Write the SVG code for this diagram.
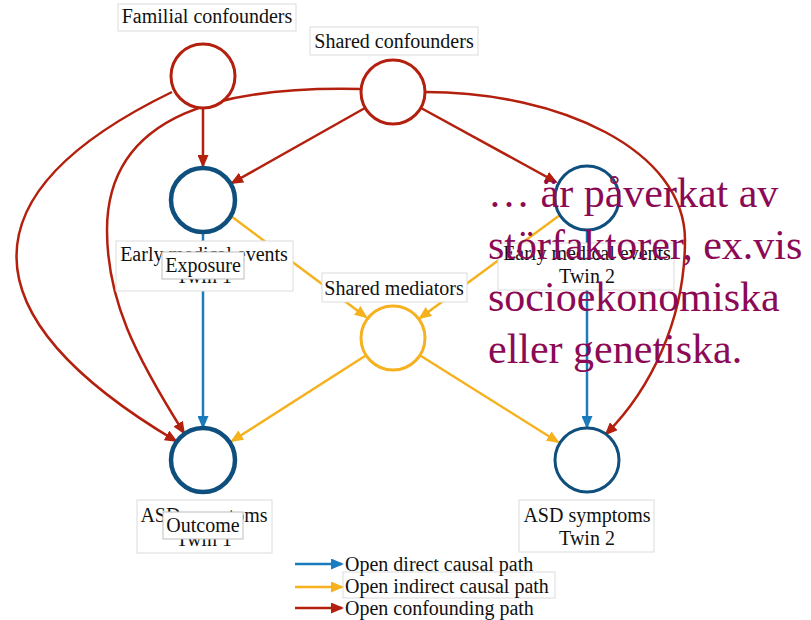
<svg xmlns="http://www.w3.org/2000/svg" width="811" height="620" viewBox="0 0 811 620">
<style>
  text { font-family: "Liberation Serif", "Times New Roman", serif; font-size: 20px; fill: #111; text-anchor: middle; }
  .lbl { fill: #fff; stroke: #dcdcdc; stroke-width: 1; }
  .tag { fill: #fff; stroke: #bdbdbd; stroke-width: 1; }
  .e { fill: none; stroke-width: 2.5; }
  .red { stroke: #b3200e; }
  .blue { stroke: #1a7bbd; }
  .orange { stroke: #f6b11f; }
  .nred { fill: #fff; stroke: #b3200e; stroke-width: 3; }
  .nblue { fill: #fff; stroke: #0f4f7e; stroke-width: 4.5; }
  .nblue2 { fill: #fff; stroke: #0f4f7e; stroke-width: 3; }
  .norange { fill: #fff; stroke: #f6b11f; stroke-width: 3; }
  .leg { text-anchor: start; }
  .big { font-size: 42px; fill: #8c0a55; text-anchor: start; }
</style>
<defs>
  <marker id="aRed" markerUnits="userSpaceOnUse" markerWidth="13" markerHeight="11" refX="11" refY="5.5" orient="auto">
    <path d="M0,0 L13,5.5 L0,11 z" fill="#b3200e"/>
  </marker>
  <marker id="aBlue" markerUnits="userSpaceOnUse" markerWidth="13" markerHeight="11" refX="11" refY="5.5" orient="auto">
    <path d="M0,0 L13,5.5 L0,11 z" fill="#1a7bbd"/>
  </marker>
  <marker id="aOrange" markerUnits="userSpaceOnUse" markerWidth="13" markerHeight="11" refX="11" refY="5.5" orient="auto">
    <path d="M0,0 L13,5.5 L0,11 z" fill="#f6b11f"/>
  </marker>
</defs>
<rect width="811" height="620" fill="#fff"/>

<g id="connectors">
  <path class="e red" d="M203,108 L203,166" marker-end="url(#aRed)"/>
  <path class="e red" d="M172,92 C-36,193 -36,315 176,441" marker-end="url(#aRed)"/>
  <path class="e red" d="M361,89 C230,86 107,110 107,230 C107,300 135,355 184,433" marker-end="url(#aRed)"/>
  <path class="e red" d="M365,108 L232,183" marker-end="url(#aRed)"/>
  <path class="e red" d="M421,108 L556,182" marker-end="url(#aRed)"/>
  <path class="e red" d="M425,92 C560,92 685,150 685,240 C685,320 650,390 606,434" marker-end="url(#aRed)"/>
  <path class="e blue" d="M203,233 L203,427" marker-end="url(#aBlue)"/>
  <path class="e blue" d="M587,231 L587,427" marker-end="url(#aBlue)"/>
  <path class="e orange" d="M231,216 L366,317" marker-end="url(#aOrange)"/>
  <path class="e orange" d="M560,215 L420,318" marker-end="url(#aOrange)"/>
  <path class="e orange" d="M365,356 L232,441" marker-end="url(#aOrange)"/>
  <path class="e orange" d="M421,356 L558,442" marker-end="url(#aOrange)"/>
</g>

<g id="familial">
  <circle class="nred" cx="203" cy="76" r="32"/>
  <rect class="lbl" x="118" y="4" width="178" height="27"/>
  <text x="207" y="23">Familial confounders</text>
</g>
<g id="shared-confounders">
  <circle class="nred" cx="393" cy="92" r="32"/>
  <rect class="lbl" x="310" y="27" width="168" height="28"/>
  <text x="394" y="48">Shared confounders</text>
</g>
<g id="exposure-twin1">
  <circle class="nblue" cx="203" cy="200" r="32"/>
  <rect class="lbl" x="116" y="241" width="177" height="50"/>
  <text x="204" y="261">Early medical events</text>
  <text x="204" y="283">Twin 1</text>
  <rect class="tag" x="162" y="252" width="82" height="27"/>
  <text x="203" y="272">Exposure</text>
</g>
<g id="exposure-twin2">
  <circle class="nblue2" cx="587" cy="198" r="32"/>
  <rect class="lbl" x="498" y="243" width="176" height="47"/>
  <text x="587" y="260">Early medical events</text>
  <text x="587" y="283">Twin 2</text>
</g>
<g id="shared-mediators">
  <circle class="norange" cx="393" cy="338" r="32"/>
  <rect class="lbl" x="322" y="273" width="145" height="29"/>
  <text x="394" y="295">Shared mediators</text>
</g>
<g id="outcome-twin1">
  <circle class="nblue" cx="203" cy="460" r="32"/>
  <rect class="lbl" x="137" y="500" width="135" height="53"/>
  <text x="204" y="522">ASD symptoms</text>
  <text x="204" y="546">Twin 1</text>
  <rect class="tag" x="163" y="512" width="80" height="27"/>
  <text x="203" y="532">Outcome</text>
</g>
<g id="outcome-twin2">
  <circle class="nblue2" cx="587" cy="460" r="32"/>
  <rect class="lbl" x="519" y="500" width="135" height="52"/>
  <text x="587" y="522">ASD symptoms</text>
  <text x="587" y="545">Twin 2</text>
</g>

<g id="legend">
  <rect class="lbl" x="343" y="572" width="212" height="26"/>
  <path class="e blue" d="M295,564 L342,564" marker-end="url(#aBlue)"/>
  <path class="e orange" d="M295,587 L342,587" marker-end="url(#aOrange)"/>
  <path class="e red" d="M295,608 L342,608" marker-end="url(#aRed)"/>
  <text class="leg" x="345" y="571">Open direct causal path</text>
  <text class="leg" x="345" y="593">Open indirect causal path</text>
  <text class="leg" x="345" y="615">Open confounding path</text>
</g>

<g id="annotation">
  <text class="big" x="488" y="207">… är påverkat av</text>
  <text class="big" x="488" y="259">störfaktorer, ex.vis</text>
  <text class="big" x="488" y="311">socioekonomiska</text>
  <text class="big" x="488" y="363">eller genetiska.</text>
</g>
</svg>
